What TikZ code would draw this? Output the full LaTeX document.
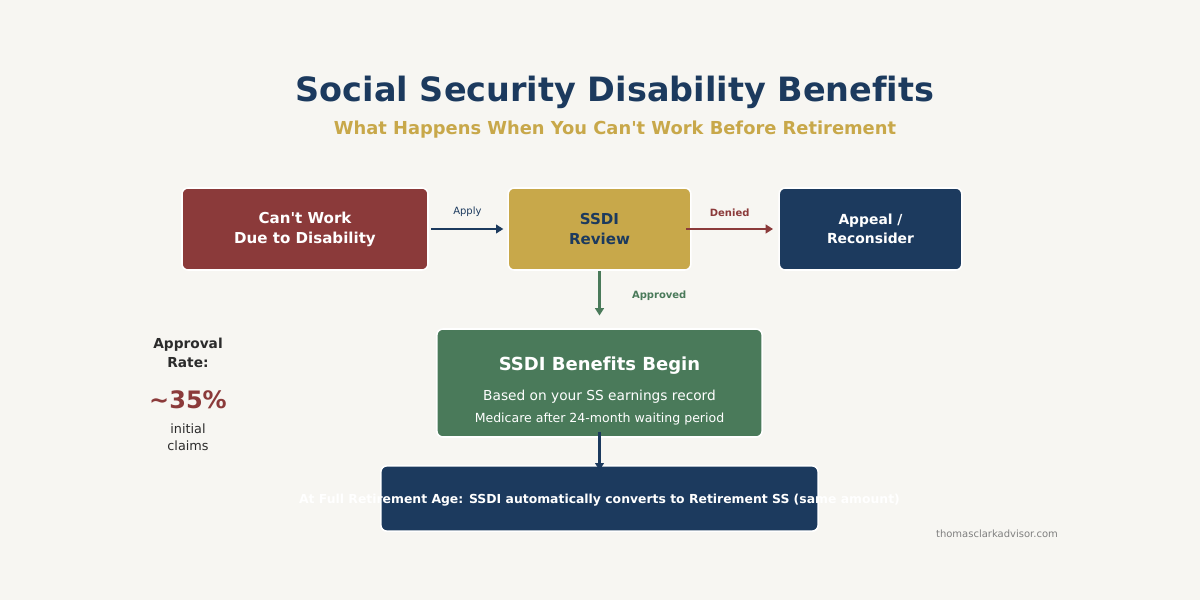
\documentclass[tikz,border=0pt]{standalone}
\usepackage{fontspec}
\setmainfont{DejaVu Sans}[Ligatures={NoCommon}]
\usetikzlibrary{arrows.meta}
\definecolor{bgCream}{RGB}{247, 246, 242}
\definecolor{ssNavy}{RGB}{28, 58, 94}
\definecolor{ssRed}{RGB}{139, 58, 58}
\definecolor{ssGold}{RGB}{200, 168, 74}
\definecolor{ssGreen}{RGB}{74, 122, 90}
\definecolor{ssDark}{RGB}{43, 43, 43}
\newcommand{\fsz}[1]{\fontsize{#1}{1.33\dimexpr#1\relax}\selectfont}
\newcommand{\apos}{\textquotesingle}

\begin{document}
\begin{tikzpicture}[x=0.75pt, y=-0.75pt,
    box/.style={rectangle, rounded corners=4.5pt, draw=white, line width=1.2pt,
      align=center, inner sep=0pt, font=\bfseries\fsz{11.3pt}, text=white},
    flow/.style={line width=2.2pt, -{Triangle[length=5.5pt, width=6.5pt]}},
    lbl/.style={font=\fsz{7.5pt}}]
  % canvas
  \fill[bgCream] (0,0) rectangle (1200,600);
  \useasboundingbox (0,0) rectangle (1200,600);

  % heading
  \node[font=\bfseries\fsz{25.1pt}, text=ssNavy] (title) at (615,92) {Social Security Disability Benefits};
  \node[font=\bfseries\fsz{13.4pt}, text=ssGold] (subtitle) at (615,130) {What Happens When You Can\apos t Work Before Retirement};

  % top row
  \node[box, fill=ssRed, minimum width=184.5pt, minimum height=61.5pt] (cantwork) at (305,229) {Can\apos t Work\\Due to Disability};
  \node[box, fill=ssGold, text=ssNavy, minimum width=137pt, minimum height=61.5pt] (review) at (599.5,229) {SSDI\\Review};
  \node[box, fill=ssNavy, font=\bfseries\fsz{10.4pt}, minimum width=137pt, minimum height=61.5pt] (appeal) at (870.5,229) {Appeal /\\Reconsider};

  % benefits
  \node[box, fill=ssGreen, minimum width=244pt, minimum height=81pt] (benefits) at (599.5,383) {};
  \node[font=\bfseries\fsz{13.5pt}, text=white] (bentitle) at (599.5,366) {SSDI Benefits Begin};
  \node[font=\fsz{10.3pt}, text=white] (benline1) at (599.5,397) {Based on your SS earnings record};
  \node[font=\fsz{9.4pt}, text=white] (benline2) at (599.5,419) {Medicare after 24-month waiting period};

  % retirement
  \node[box, fill=ssNavy, minimum width=328pt, minimum height=49pt] (retire) at (599.5,498.5) {};

  % connectors
  \draw[flow, ssNavy] ([xshift=2pt]cantwork.east) -- ([xshift=-3pt]review.west)
    node[midway, above=5pt, lbl, text=ssNavy] (applylbl) {Apply};
  \draw[flow, ssRed] ([xshift=-4pt]review.east) -- ([xshift=-4pt]appeal.west)
    node[midway, above=5pt, lbl, font=\bfseries\fsz{7.5pt}, text=ssRed] (deniedlbl) {Denied};
  \draw[flow, ssGreen] (review.south) -- ([yshift=9.5pt]benefits.north)
    node[midway, right=20pt, yshift=-2pt, lbl, font=\bfseries\fsz{7.5pt}, text=ssGreen] (approvedlbl) {Approved};
  \draw[flow, ssNavy] ([yshift=4pt]benefits.south) -- ([yshift=-4pt]retire.north);

  % retirement text runs past the box
  \node[font=\bfseries\fsz{9.3pt}, text=white] (retiretext) at (599.5,500) {At Full Retirement Age: SSDI automatically converts to Retirement SS (same amount)};

  % approval stat
  \node[font=\bfseries\fsz{10.3pt}, text=ssDark, align=center] (ratelbl) at (188,353) {Approval\\Rate:};
  \node[font=\bfseries\fsz{18pt}, text=ssRed] (rate) at (188,400) {\textasciitilde35\%};
  \node[font=\fsz{9.6pt}, text=ssDark, align=center] (ratenote) at (188,437) {initial\\claims};

  % footer
  \node[font=\fsz{7.5pt}, text=gray] (site) at (997,534) {thomasclarkadvisor.com};
\end{tikzpicture}
\end{document}
